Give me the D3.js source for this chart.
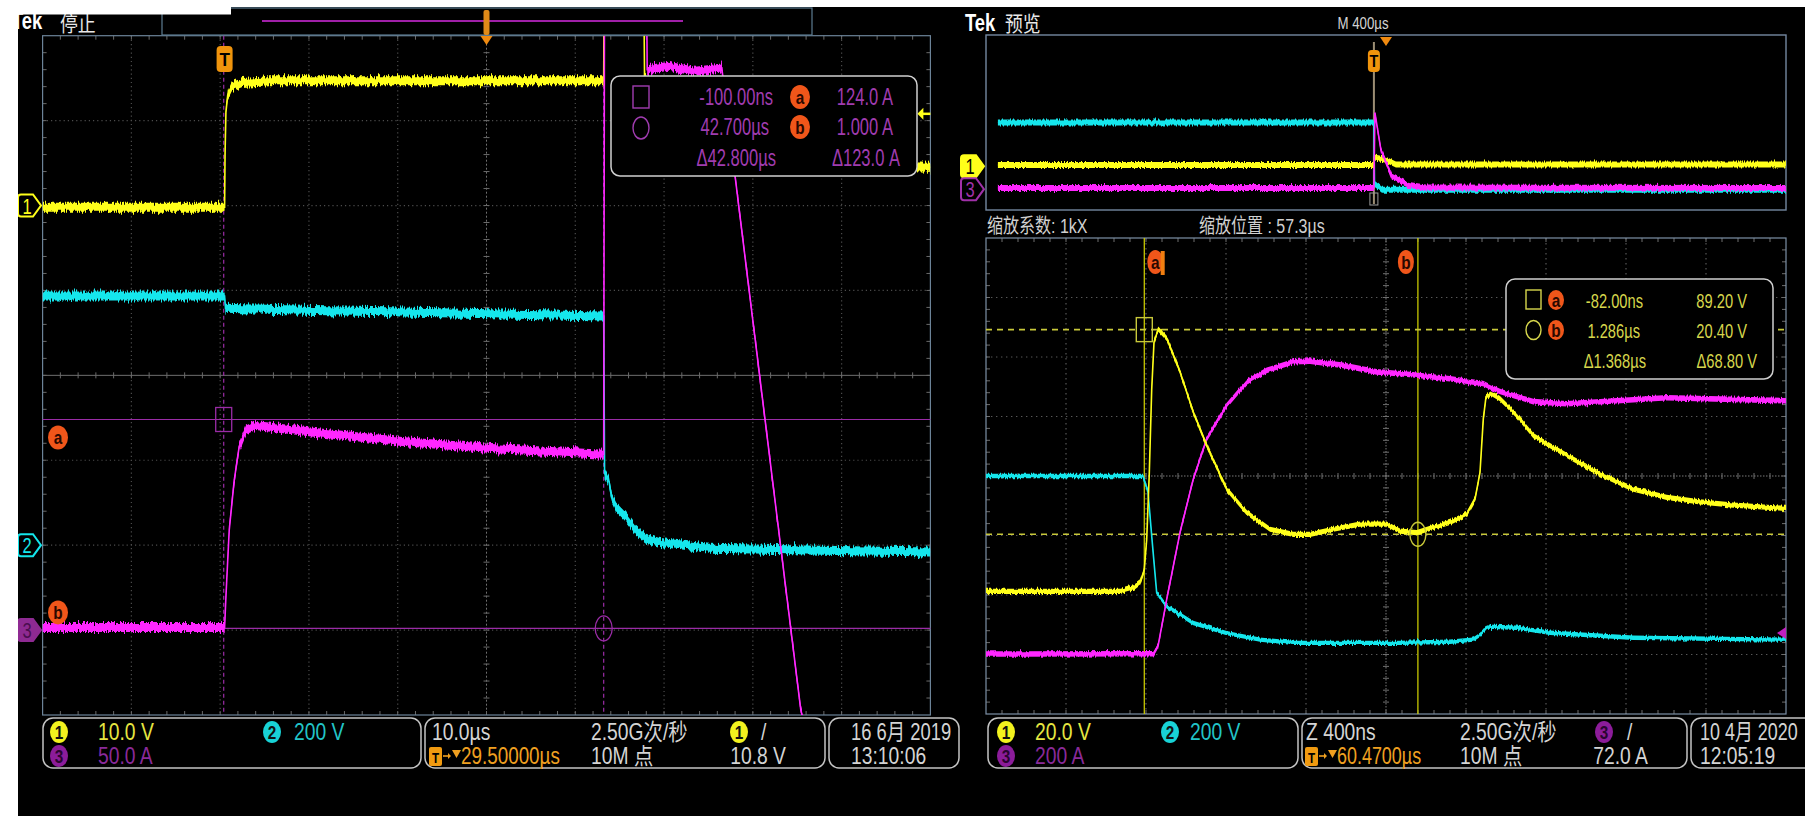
<!DOCTYPE html>
<html>
<head>
<meta charset="utf-8">
<script src="https://cdn.jsdelivr.net/npm/d3@7"></script>
<style>
  html, body { margin: 0; padding: 0; background: #000; }
  svg { display: block; }
</style>
</head>
<body>
<svg id="scope" width="1805" height="816"></svg>
<script>
// ===== Captured waveforms: [time (µs), value] =====
// Left capture: 10 µs/div, trigger-to-centre 29.5 µs
const leftTimebase = 10, leftDelay = 29.5;
const leftScales  = [10, 200, 50];     // V/div, V/div, A/div
const leftOffsets = [2, -2, -3];       // ground position, divisions from centre
const leftCh1 = [[-20.5,-0.2],[0,-0.2],[0.05,6],[0.15,11],[0.35,13],[0.8,14],[2,14.5],[5,14.7],[42.7,14.7],[42.8,40],[47.1,40],[47.3,15.2],[50,8],[60,5],[79.5,4.5]];
const leftCh2 = [[-20.5,587],[0,587],[0.1,558],[10,553],[20,549],[30,545],[42.7,540],[42.8,170],[43.3,150],[43.6,113],[44.1,90],[45.2,66],[46.3,36],[47.4,17],[48.9,7],[54.6,-7],[63.9,-11],[79.5,-16]];
const leftCh3 = [[-20.5,1.5],[0,1.5],[0.15,19.6],[0.52,58.9],[1.08,88],[1.64,108],[2.4,117.8],[3.5,120.5],[10,116.5],[20,111],[30,107],[42.7,103.5],[42.8,400],[47.5,400],[47.6,330],[50,332],[53,329],[56,331],[64.9,-47],[66,-70]];
const leftCursorTimes  = [-0.1, 42.7];
const leftCursorLevels = [124.0, 1.0];
const leftTrigLevel = 10.8;
const leftReadout = [["-100.00ns","a","124.0 A"],["42.700µs","b","1.000 A"],["Δ42.800µs","","Δ123.0 A"]];

// Right capture, zoomed: 400 ns/div; overview: 400 µs/div
const rightTimebase = 0.4, rightCentre = 1.1265;
const overviewTimebase = 400, overviewDelay = 60.47;
const rightScales  = [20, 200, 200];
const rightOffsets = [-2, -3, -3];
const rightCh1 = [[-0.8735,1.2],[-0.2,1.2],[-0.137,2.4],[-0.1035,4.1],[-0.082,8.6],[-0.07,18.7],[-0.057,41],[-0.045,69],[-0.0335,85],[-0.012,89.4],[0.0315,86.2],[0.0965,75],[0.163,61.5],[0.23,50.2],[0.33,35.6],[0.43,27.7],[0.5465,22.1],[0.663,20.4],[0.7465,20.4],[0.863,22.1],[0.9965,23.8],[1.13,23.8],[1.1965,21.5],[1.28,21.0],[1.363,22.7],[1.4465,24.4],[1.53,27.2],[1.5715,32.2],[1.5965,41.2],[1.613,59.2],[1.6265,66.6],[1.655,67.7],[1.6965,66],[1.78,60.4],[1.863,53.6],[1.9465,50.2],[2.063,45.7],[2.1965,40.7],[2.363,35.6],[2.53,32.8],[2.6965,31.3],[2.863,30.2],[3.1265,29.1]];
const rightCh2 = [[-0.8735,600],[-0.0885,600],[-0.0635,546],[-0.0435,387],[-0.02,207],[0.03,162],[0.163,106],[0.33,72],[0.4965,50],[0.663,39],[0.9965,39],[1.1965,39],[1.4465,43],[1.5615,50],[1.5965,66],[1.6315,93.6],[1.78,90],[1.9465,73],[2.363,56.5],[3.1265,50]];
const rightCh3 = [[-0.8735,1.5],[-0.0365,2.5],[-0.02,21.8],[-0.012,33],[0.03,185],[0.0965,410],[0.163,590],[0.23,725],[0.33,837],[0.43,916],[0.53,955],[0.663,984],[0.7465,986],[0.913,972],[1.08,950],[1.2465,941],[1.4465,927],[1.6115,911],[1.6965,884],[1.863,850],[2.03,843],[2.28,853],[2.53,863],[3.1265,853]];
const overviewCh1 = [[-1880,1.2],[0,1.2],[2,8],[60,6],[110,1.5],[2060,1.5]];
const overviewCh2 = [[-1880,600],[0,600],[3,40],[40,-15],[2060,-15]];
const overviewCh3 = [[-1880,1.5],[0,1.5],[5,690],[35,350],[90,105],[175,29],[260,5],[2060,1.5]];
const rightCursorTimes  = [-0.082, 1.286];
const rightCursorLevels = [89.2, 20.4];
const rightTrigLevel = 72.0;
const rightReadout = [["-82.00ns","a","89.20 V"],["1.286µs","b","20.40 V"],["Δ1.368µs","","Δ68.80 V"]];

// Status bar texts
const leftStatus  = {ch:["10.0 V","200 V","50.0 A"], time:"10.0µs", rate:"2.50G次/秒", pos:"29.50000µs", len:"10M 点", trig:"10.8 V", trigCh:"1", date:"16 6月 2019", clock:"13:10:06"};
const rightStatus = {ch:["20.0 V","200 V","200 A"], time:"Z 400ns", rate:"2.50G次/秒", pos:"60.4700µs", len:"10M 点", trig:"72.0 A", trigCh:"3", date:"10 4月 2020", clock:"12:05:19"};

// ===== Styling =====
const CH = ["#ffff1a", "#14e6ec", "#ff28ff"];
const CURSOR_L = "#9a2ca6";
const CURSOR_R = "#c8c83a";
const ORANGE = "#f07e10";
const FONT = "'Liberation Sans','Noto Sans CJK SC','DejaVu Sans',sans-serif";

const svg = d3.select("#scope");
const defs = svg.append("defs");
svg.append("rect").attr("width", 1805).attr("height", 816).attr("fill", "#000");

// acquisition-noise texture for the trace envelopes (vertical jitter only)
function grainFilter(id, amount) {
  const f = defs.append("filter").attr("id", id).attr("x", "-2%").attr("y", "-30%").attr("width", "104%").attr("height", "160%");
  f.append("feTurbulence").attr("type", "fractalNoise").attr("baseFrequency", "0.7 0.03").attr("numOctaves", 2).attr("seed", 7).attr("result", "n");
  const ct = f.append("feComponentTransfer").attr("in", "n").attr("result", "m");
  ct.append("feFuncR").attr("type", "linear").attr("slope", 0).attr("intercept", 0.5);
  f.append("feDisplacementMap").attr("in", "SourceGraphic").attr("in2", "m").attr("scale", amount)
    .attr("xChannelSelector", "R").attr("yChannelSelector", "G");
}
grainFilter("grainL", 9);
grainFilter("grainR", 5);

function txt(p, x, y, s, o = {}) {
  return p.append("text")
    .attr("transform", `translate(${x},${y}) scale(${o.sx ?? 0.78},1)`)
    .attr("font-family", FONT)
    .attr("font-size", o.size || 18)
    .attr("font-weight", o.weight || "normal")
    .attr("fill", o.fill || "#d4d4d4")
    .attr("text-anchor", o.anchor || "start")
    .text(s);
}

function ball(p, cx, cy, label, fill, ink, rx = 9, ry = 11) {
  p.append("ellipse").attr("cx", cx).attr("cy", cy).attr("rx", rx).attr("ry", ry).attr("fill", fill);
  txt(p, cx, cy + 6.5, label, {size: 18, fill: ink, anchor: "middle", sx: 0.85, weight: "bold"});
}

function chMarker(p, x0, y, label, color, filled, ink) {
  const h = 11, w = 15, tip = 8;
  const d = `M${x0+3},${y-h} H${x0+w} L${x0+w+tip},${y} L${x0+w},${y+h} H${x0+3} Q${x0},${y+h} ${x0},${y+h-3} V${y-h+3} Q${x0},${y-h} ${x0+3},${y-h} Z`;
  p.append("path").attr("d", d).attr("fill", filled ? color : "#000").attr("stroke", color).attr("stroke-width", 2);
  txt(p, x0 + 9, y + 8, label, {size: 22, fill: ink, anchor: "middle", sx: 0.75});
}

function graticule(g, P, style) {
  const dx = (P.x1 - P.x0) / 10, dy = (P.y1 - P.y0) / 8;
  const cx = (P.x0 + P.x1) / 2, cy = (P.y0 + P.y1) / 2;
  for (let i = 1; i < 10; i++) {
    if (i === 5) continue;
    g.append("line").attr("x1", P.x0 + i*dx).attr("x2", P.x0 + i*dx).attr("y1", P.y0).attr("y2", P.y1)
      .attr("stroke", style.grid).attr("stroke-dasharray", style.dash).attr("stroke-width", 1.2);
  }
  for (let j = 1; j < 8; j++) {
    if (j === 4) continue;
    g.append("line").attr("y1", P.y0 + j*dy).attr("y2", P.y0 + j*dy).attr("x1", P.x0).attr("x2", P.x1)
      .attr("stroke", style.grid).attr("stroke-dasharray", style.dash).attr("stroke-width", 1.2);
  }
  g.append("line").attr("x1", P.x0).attr("x2", P.x1).attr("y1", cy).attr("y2", cy)
    .attr("stroke", style.centre).attr("stroke-dasharray", style.hDash).attr("stroke-width", 1);
  g.append("line").attr("x1", cx).attr("x2", cx).attr("y1", P.y0).attr("y2", P.y1)
    .attr("stroke", style.centre).attr("stroke-dasharray", style.vDash).attr("stroke-width", 1);
  const ticks = [];
  for (let k = 1; k < 50; k++) {
    const x = P.x0 + k*dx/5;
    ticks.push([x, cy-3, x, cy+3], [x, P.y0, x, P.y0+4], [x, P.y1-4, x, P.y1]);
  }
  for (let k = 1; k < 40; k++) {
    const y = P.y0 + k*dy/5;
    ticks.push([cx-3, y, cx+3, y], [P.x0, y, P.x0+4, y], [P.x1-4, y, P.x1, y]);
  }
  g.selectAll(null).data(ticks).join("line")
    .attr("x1", d => d[0]).attr("y1", d => d[1]).attr("x2", d => d[2]).attr("y2", d => d[3])
    .attr("stroke", style.tick).attr("stroke-width", 1);
  g.append("rect").attr("x", P.x0).attr("y", P.y0).attr("width", P.x1 - P.x0).attr("height", P.y1 - P.y0)
    .attr("fill", "none").attr("stroke", style.border).attr("stroke-width", 1.2);
}

function trace(g, data, x, yv, color, hw, grain) {
  g.append("g").attr("filter", `url(#${grain})`).append("path").datum(data)
    .attr("d", d3.area().x(d => x(d[0])).y0(d => yv(d[1]) - hw).y1(d => yv(d[1]) + hw))
    .attr("fill", color);
  g.append("path").datum(data)
    .attr("d", d3.line().x(d => x(d[0])).y(d => yv(d[1])))
    .attr("fill", "none").attr("stroke", color).attr("stroke-width", 1.6);
}

function statusBox(p, x0, x1, y0, y1) {
  p.append("rect").attr("x", x0).attr("y", y0).attr("width", x1 - x0).attr("height", y1 - y0)
    .attr("rx", 10).attr("fill", "none").attr("stroke", "#c4c4c4").attr("stroke-width", 1.5);
}
const ST = {size: 23, sx: 0.84};

// horizontal-position readout: T box, arrow, down triangle, value
function posReadout(p, x, yBase, value, sx) {
  p.append("rect").attr("x", x).attr("y", yBase - 16).attr("width", 13).attr("height", 19).attr("rx", 2).attr("fill", "#f09a10");
  txt(p, x + 6.5, yBase, "T", {size: 15, fill: "#000", anchor: "middle", weight: "bold"});
  p.append("path").attr("d", `M${x+14},${yBase-7} h6`).attr("stroke", "#f0a020").attr("stroke-width", 1.6);
  p.append("path").attr("d", `M${x+19},${yBase-10} l3,3 l-3,3 Z`).attr("fill", "#f0a020");
  p.append("path").attr("d", `M${x+23},${yBase-13} h9 l-4.5,8 Z`).attr("fill", "#f0a020");
  txt(p, x + 32, yBase + 1, value, {...ST, sx, fill: "#f0a020"});
}

// ================= LEFT CAPTURE =================
const LP = {x0: 42.6, x1: 930.4, y0: 35.7, y1: 715};
const lx = d3.scaleLinear().domain([leftDelay - 5*leftTimebase, leftDelay + 5*leftTimebase]).range([LP.x0, LP.x1]);
const lDiv = d3.scaleLinear().domain([-4, 4]).range([LP.y1, LP.y0]);
const ly = i => v => lDiv(v / leftScales[i] + leftOffsets[i]);

const gL = svg.append("g");
graticule(gL, LP, {grid: "#4c4c4c", dash: "1.2,3", centre: "#6e6e6e", hDash: null, vDash: "2,2", tick: "#6a6a6a", border: "#6c8398"});

defs.append("clipPath").attr("id", "clipL")
  .append("rect").attr("x", LP.x0).attr("y", LP.y0).attr("width", LP.x1 - LP.x0).attr("height", LP.y1 - LP.y0);

// cursors (channel 3 units)
const gLc = gL.append("g");
leftCursorLevels.forEach(v => gLc.append("line").attr("x1", LP.x0).attr("x2", LP.x1)
  .attr("y1", ly(2)(v)).attr("y2", ly(2)(v)).attr("stroke", CURSOR_L).attr("stroke-width", 1.2));
leftCursorTimes.forEach(t => gLc.append("line").attr("x1", lx(t)).attr("x2", lx(t))
  .attr("y1", LP.y0).attr("y2", LP.y1).attr("stroke", CURSOR_L).attr("stroke-width", 1.2).attr("stroke-dasharray", "4,3"));

const gLt = gL.append("g").attr("clip-path", "url(#clipL)");
trace(gLt, leftCh2, lx, ly(1), CH[1], 4.5, "grainL");
trace(gLt, leftCh1, lx, ly(0), CH[0], 4.5, "grainL");
trace(gLt, leftCh3, lx, ly(2), CH[2], 4.5, "grainL");

// cursor symbols
gL.append("rect").attr("x", lx(leftCursorTimes[0]) - 8).attr("y", ly(2)(leftCursorLevels[0]) - 12)
  .attr("width", 16).attr("height", 24).attr("fill", "none").attr("stroke", CURSOR_L).attr("stroke-width", 1.3);
gL.append("ellipse").attr("cx", lx(leftCursorTimes[1])).attr("cy", ly(2)(leftCursorLevels[1]))
  .attr("rx", 8.5).attr("ry", 12.5).attr("fill", "none").attr("stroke", CURSOR_L).attr("stroke-width", 1.3);
ball(gL, 58, ly(2)(leftCursorLevels[0]) + 18, "a", "#f0561a", "#2a0800", 10, 12);
ball(gL, 58, ly(2)(leftCursorLevels[1]) - 16, "b", "#f0561a", "#2a0800", 10, 12);

// trigger marker and trigger level
const tX = lx(0);
gL.append("rect").attr("x", tX - 8).attr("y", 46).attr("width", 16).attr("height", 26).attr("rx", 4).attr("fill", "#f0940c");
txt(gL, tX, 66, "T", {size: 19, fill: "#000", anchor: "middle", weight: "bold", sx: 0.9});
const tl = ly(0)(leftTrigLevel);
gL.append("path").attr("d", `M${LP.x1},${tl} H${LP.x1-9}`).attr("stroke", CH[0]).attr("stroke-width", 2.5);
gL.append("path").attr("d", `M${LP.x1-13},${tl} l6,-6 v12 Z`).attr("fill", CH[0]);

// readout box
const gLr = svg.append("g");
gLr.append("rect").attr("x", 611).attr("y", 76).attr("width", 306).attr("height", 100).attr("rx", 9)
  .attr("fill", "#000").attr("stroke", "#cfcfcf").attr("stroke-width", 1.5);
const LTXT = "#a03cb0";
gLr.append("rect").attr("x", 633).attr("y", 86).attr("width", 16).attr("height", 22).attr("fill", "none").attr("stroke", LTXT).attr("stroke-width", 1.4);
gLr.append("ellipse").attr("cx", 641).attr("cy", 128).attr("rx", 8).attr("ry", 11).attr("fill", "none").attr("stroke", LTXT).attr("stroke-width", 1.4);
const lRowY = [97, 127, 158], lEnd1 = [773, 769, 776], lEnd2 = [893, 893, 900];
leftReadout.forEach((r, i) => {
  txt(gLr, lEnd1[i], lRowY[i] + 8, r[0], {size: 23, fill: LTXT, anchor: "end", sx: 0.72});
  if (r[1]) ball(gLr, 800, lRowY[i], r[1], "#f0561a", "#2a0800", 10, 12);
  txt(gLr, lEnd2[i], lRowY[i] + 8, r[2], {size: 23, fill: LTXT, anchor: "end", sx: 0.72});
});

// channel ground markers
chMarker(svg, 18, ly(0)(0), "1", CH[0], false, CH[0]);
chMarker(svg, 18, ly(1)(0), "2", CH[1], false, CH[1]);
chMarker(svg, 18, ly(2)(0), "3", "#8e2a92", true, "#4a0e50");

// record view strip
svg.append("rect").attr("x", 162).attr("y", 8).attr("width", 650).attr("height", 27).attr("fill", "#000").attr("stroke", "#5d7c92").attr("stroke-width", 1.2);
svg.append("line").attr("x1", 262).attr("x2", 683).attr("y1", 21).attr("y2", 21).attr("stroke", "#a020a8").attr("stroke-width", 2);
const cX = lx(leftDelay);
svg.append("rect").attr("x", cX - 3).attr("y", 10).attr("width", 6).attr("height", 25).attr("rx", 2).attr("fill", "#e08a18");
svg.append("path").attr("d", `M${cX-6},36 h12 l-6,9 Z`).attr("fill", "#f08a10");

// status bar
const sL = svg.append("g");
statusBox(sL, 43, 421, 718, 768);
statusBox(sL, 425, 825, 718, 768);
statusBox(sL, 829, 959, 718, 768);
ball(sL, 59, 732, "1", "#f2f21e", "#111");
txt(sL, 98, 740, leftStatus.ch[0], {...ST, fill: "#e6e640"});
ball(sL, 272, 732, "2", "#18d2d6", "#111");
txt(sL, 294, 740, leftStatus.ch[1], {...ST, fill: "#22c4c8"});
ball(sL, 59, 756, "3", "#8c1c9a", "#2a0530");
txt(sL, 98, 764, leftStatus.ch[2], {...ST, fill: "#8a2a9a"});
txt(sL, 432, 740, leftStatus.time, ST);
txt(sL, 591, 740, leftStatus.rate, ST);
ball(sL, 739, 732, leftStatus.trigCh, "#f2f21e", "#111");
txt(sL, 761, 740, "/", ST);
posReadout(sL, 429, 763, leftStatus.pos, 0.82);
txt(sL, 591, 764, leftStatus.len, ST);
txt(sL, 786, 764, leftStatus.trig, {...ST, anchor: "end"});
txt(sL, 851, 740, leftStatus.date, {...ST, sx: 0.8});
txt(sL, 851, 764, leftStatus.clock, ST);

// title
txt(svg, 12, 28.5, "Tek", {size: 23, fill: "#fff", weight: "bold", sx: 0.8});
txt(svg, 60, 31, "停止", {size: 21, fill: "#e8e8e8", sx: 0.85});

// ================= RIGHT CAPTURE =================
// overview
const OP = {x0: 986, x1: 1786, y0: 35, y1: 210};
const ox = d3.scaleLinear().domain([overviewDelay - 5*overviewTimebase, overviewDelay + 5*overviewTimebase]).range([OP.x0, OP.x1]);
const oDiv = d3.scaleLinear().domain([-4, 4]).range([OP.y1, OP.y0]);
const oy = i => v => oDiv(v / rightScales[i] + rightOffsets[i]);
const gO = svg.append("g");
gO.append("rect").attr("x", OP.x0).attr("y", OP.y0).attr("width", OP.x1 - OP.x0).attr("height", OP.y1 - OP.y0)
  .attr("fill", "#000").attr("stroke", "#7488a0").attr("stroke-width", 1.4);
defs.append("clipPath").attr("id", "clipO")
  .append("rect").attr("x", OP.x0).attr("y", OP.y0).attr("width", OP.x1 - OP.x0).attr("height", OP.y1 - OP.y0);
const gOt = gO.append("g").attr("clip-path", "url(#clipO)");
gOt.append("line").attr("x1", ox(0)).attr("x2", ox(0)).attr("y1", 42).attr("y2", 204).attr("stroke", "#9c8e74").attr("stroke-width", 2);
trace(gOt, overviewCh2, ox, oy(1), CH[1], 3, "grainR");
trace(gOt, overviewCh1, ox, oy(0), CH[0], 3, "grainR");
trace(gOt, overviewCh3, ox, oy(2), CH[2], 3, "grainR");
gO.append("rect").attr("x", ox(0) - 4).attr("y", 193).attr("width", 8).attr("height", 12).attr("fill", "none").attr("stroke", "#9c9c9c").attr("stroke-width", 1);
gO.append("rect").attr("x", ox(0) - 6).attr("y", 50).attr("width", 12).attr("height", 22).attr("rx", 4).attr("fill", "#f0940c");
txt(gO, ox(0), 67, "T", {size: 16, fill: "#000", anchor: "middle", weight: "bold", sx: 0.9});
gO.append("path").attr("d", `M${ox(overviewDelay)-6},37 h12 l-6,9 Z`).attr("fill", "#f08a10");
txt(svg, ox(overviewDelay) - 23, 29, "M 400µs", {size: 17, anchor: "middle", sx: 0.78});
chMarker(svg, 961, oy(0)(0), "1", CH[0], true, "#000");
chMarker(svg, 961, oy(2)(0) + 1, "3", "#a030a8", false, "#a030a8");

txt(svg, 965, 31, "Tek", {size: 23, fill: "#fff", weight: "bold", sx: 0.8});
txt(svg, 1005, 31, "预览", {size: 21, fill: "#e8e8e8", sx: 0.85});
txt(svg, 987, 233, "缩放系数: 1kX", {size: 20, fill: "#d0d0d0", sx: 0.8});
txt(svg, 1199, 233, "缩放位置 : 57.3µs", {size: 20, fill: "#d0d0d0", sx: 0.8});

// zoomed view
const RP = {x0: 986, x1: 1786, y0: 238, y1: 714};
const rx = d3.scaleLinear().domain([rightCentre - 5*rightTimebase, rightCentre + 5*rightTimebase]).range([RP.x0, RP.x1]);
const rDiv = d3.scaleLinear().domain([-4, 4]).range([RP.y1, RP.y0]);
const ry = i => v => rDiv(v / rightScales[i] + rightOffsets[i]);
const gR = svg.append("g");
graticule(gR, RP, {grid: "#575757", dash: "1.4,3.6", centre: "#7a7a7a", hDash: "1.5,1.5", vDash: "1.5,1.5", tick: "#6e6e6e", border: "#7c90a6"});
defs.append("clipPath").attr("id", "clipR")
  .append("rect").attr("x", RP.x0).attr("y", RP.y0).attr("width", RP.x1 - RP.x0).attr("height", RP.y1 - RP.y0);

rightCursorTimes.forEach(t => gR.append("line").attr("x1", rx(t)).attr("x2", rx(t)).attr("y1", RP.y0).attr("y2", RP.y1)
  .attr("stroke", "#c8c800").attr("stroke-width", 1.3));
rightCursorLevels.forEach(v => gR.append("line").attr("x1", RP.x0).attr("x2", RP.x1).attr("y1", ry(0)(v)).attr("y2", ry(0)(v))
  .attr("stroke", CURSOR_R).attr("stroke-width", 1.6).attr("stroke-dasharray", "6,5"));

const gRt = gR.append("g").attr("clip-path", "url(#clipR)");
trace(gRt, rightCh2, rx, ry(1), CH[1], 2.2, "grainR");
trace(gRt, rightCh3, rx, ry(2), CH[2], 2.8, "grainR");
trace(gRt, rightCh1, rx, ry(0), CH[0], 2.6, "grainR");

gR.append("rect").attr("x", rx(rightCursorTimes[0]) - 8).attr("y", ry(0)(rightCursorLevels[0]) - 12)
  .attr("width", 16).attr("height", 24).attr("fill", "none").attr("stroke", CURSOR_R).attr("stroke-width", 1.4);
gR.append("ellipse").attr("cx", rx(rightCursorTimes[1])).attr("cy", ry(0)(rightCursorLevels[1]))
  .attr("rx", 8).attr("ry", 12).attr("fill", "none").attr("stroke", CURSOR_R).attr("stroke-width", 1.4);
ball(gR, rx(rightCursorTimes[0]) + 11, 262, "a", "#f0561a", "#2a0800", 8, 12);
ball(gR, rx(rightCursorTimes[1]) - 12, 262, "b", "#f0561a", "#2a0800", 8, 12);
gR.append("rect").attr("x", rx(0)).attr("y", 251).attr("width", 4).attr("height", 24).attr("fill", ORANGE);
const rtl = ry(2)(rightTrigLevel);
gR.append("path").attr("d", `M${RP.x1},${rtl-6} v12 l-9,-6 Z`).attr("fill", "#c020c0");

// readout box
const gRr = svg.append("g");
gRr.append("rect").attr("x", 1506).attr("y", 279).attr("width", 267).attr("height", 100).attr("rx", 9)
  .attr("fill", "#000").attr("stroke", "#cfcfcf").attr("stroke-width", 1.5);
const RTXT = "#d6d64c";
gRr.append("rect").attr("x", 1526).attr("y", 290).attr("width", 15).attr("height", 19).attr("fill", "none").attr("stroke", RTXT).attr("stroke-width", 1.4);
gRr.append("ellipse").attr("cx", 1533.5).attr("cy", 330).attr("rx", 7.5).attr("ry", 9.5).attr("fill", "none").attr("stroke", RTXT).attr("stroke-width", 1.4);
const rRowY = [300, 330, 360], rEnd1 = [1643, 1640, 1646], rEnd2 = [1747, 1747, 1757];
rightReadout.forEach((r, i) => {
  txt(gRr, rEnd1[i], rRowY[i] + 7.5, r[0], {size: 21, fill: RTXT, anchor: "end", sx: 0.7});
  if (r[1]) ball(gRr, 1556, rRowY[i], r[1], "#f0561a", "#2a0800", 8, 10);
  txt(gRr, rEnd2[i], rRowY[i] + 7.5, r[2], {size: 21, fill: RTXT, anchor: "end", sx: 0.7});
});

// status bar
const sR = svg.append("g");
statusBox(sR, 988, 1298, 718, 768);
statusBox(sR, 1302, 1687, 718, 768);
statusBox(sR, 1691, 1830, 718, 768);
ball(sR, 1006, 732, "1", "#f2f21e", "#111");
txt(sR, 1035, 740, rightStatus.ch[0], {...ST, fill: "#e6e640"});
ball(sR, 1170, 732, "2", "#18d2d6", "#111");
txt(sR, 1190, 740, rightStatus.ch[1], {...ST, fill: "#22c4c8"});
ball(sR, 1006, 756, "3", "#8c1c9a", "#2a0530");
txt(sR, 1035, 764, rightStatus.ch[2], {...ST, fill: "#8a2a9a"});
txt(sR, 1306, 740, rightStatus.time, ST);
txt(sR, 1460, 740, rightStatus.rate, ST);
ball(sR, 1604, 732, rightStatus.trigCh, "#8c1c9a", "#2a0530");
txt(sR, 1627, 740, "/", ST);
posReadout(sR, 1305, 763, rightStatus.pos, 0.78);
txt(sR, 1460, 764, rightStatus.len, ST);
txt(sR, 1648, 764, rightStatus.trig, {...ST, anchor: "end"});
txt(sR, 1700, 740, rightStatus.date, {...ST, sx: 0.78});
txt(sR, 1700, 764, rightStatus.clock, ST);

// paper margins around the screenshots
svg.append("rect").attr("x", 0).attr("y", 0).attr("width", 1805).attr("height", 7).attr("fill", "#fff");
svg.append("rect").attr("x", 0).attr("y", 0).attr("width", 231).attr("height", 14.5).attr("fill", "#fff");
svg.append("rect").attr("x", 0).attr("y", 0).attr("width", 18).attr("height", 816).attr("fill", "#fff");
</script>
</body>
</html>
